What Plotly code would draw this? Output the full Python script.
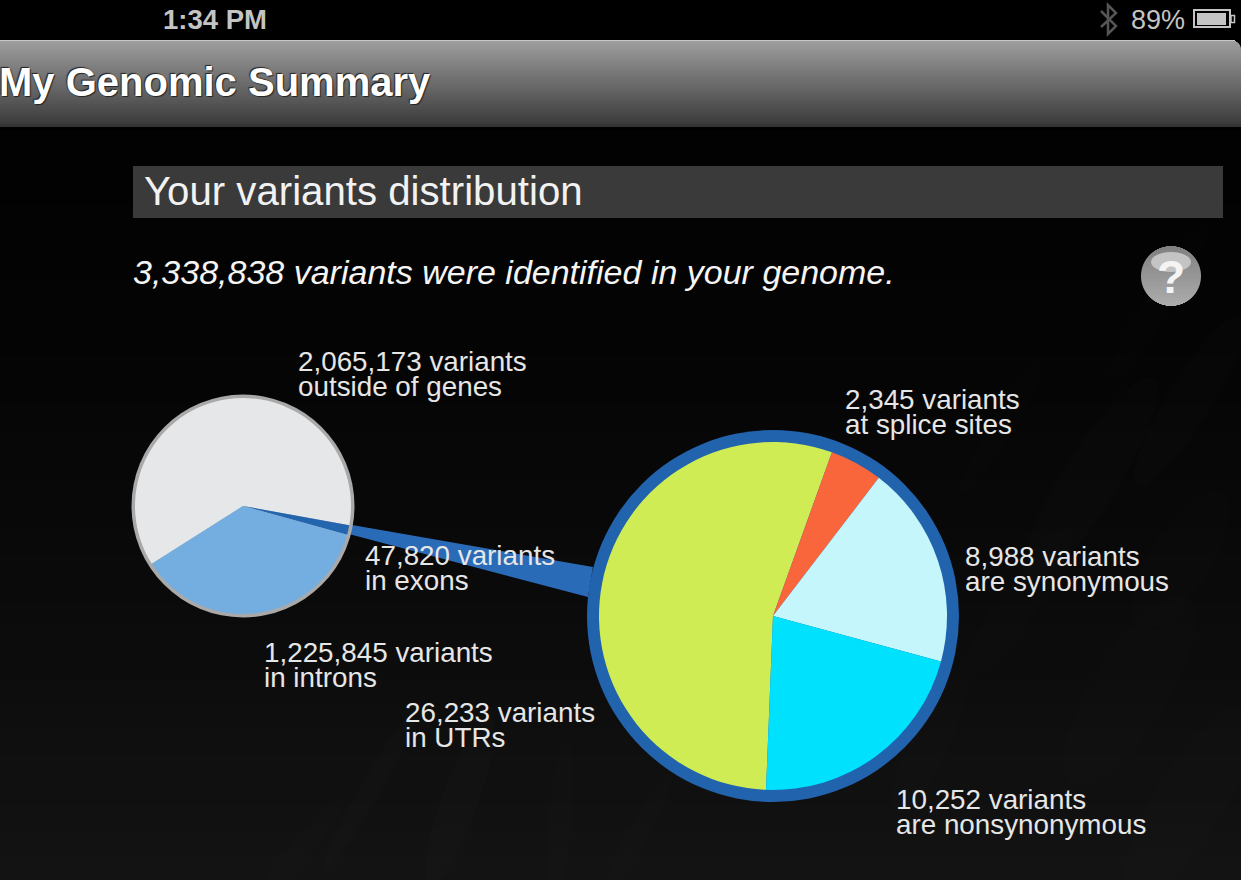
import math
import plotly.graph_objects as go

W, H = 1241, 880

# ---- data ----
overview_labels = ["outside of genes", "in exons", "in introns"]
overview_values = [2065173, 47820, 1225845]
overview_colors = ["#e6e7e9", "#2465b0", "#74aee0"]

exon_labels = ["in UTRs", "at splice sites", "are synonymous", "are nonsynonymous"]
exon_values = [26233, 2345, 8988, 10252]
exon_colors = ["#cfec55", "#f9663c", "#c5f6fb", "#00e1fe"]

# (left x, first-line centre y, line 1, line 2)
callouts = [
    (298, 362, "2,065,173 variants", "outside of genes"),
    (845, 400, "2,345 variants", "at splice sites"),
    (965, 557, "8,988 variants", "are synonymous"),
    (365, 556, "47,820 variants", "in exons"),
    (264, 653, "1,225,845 variants", "in introns"),
    (405, 713, "26,233 variants", "in UTRs"),
    (896, 800, "10,252 variants", "are nonsynonymous"),
]

FONT = "Liberation Sans"


def px(x):
    return x / W


def py(y):
    return 1 - y / H


def rect(x0, y0, x1, y1, fill, line=None, lw=0, layer="below"):
    return dict(type="rect", xref="paper", yref="paper", x0=px(x0), x1=px(x1), y0=py(y0), y1=py(y1),
                fillcolor=fill, line=dict(color=line or fill, width=lw), layer=layer)


def circle(cx, cy, r, fill, ry=None, layer="below"):
    ry = ry or r
    return dict(type="circle", xref="paper", yref="paper", x0=px(cx - r), x1=px(cx + r),
                y0=py(cy + ry), y1=py(cy - ry), fillcolor=fill, line=dict(width=0), layer=layer)


def poly(points, fill=None, line=None, lw=0, close=True, layer="below"):
    d = "M " + " L ".join(f"{px(x):.5f},{py(y):.5f}" for x, y in points) + (" Z" if close else "")
    return dict(type="path", xref="paper", yref="paper", path=d, fillcolor=fill or "rgba(0,0,0,0)",
                line=dict(color=line or "rgba(0,0,0,0)", width=lw), layer=layer)


def mix(a, b, t):
    v = round(a + (b - a) * t)
    return f"rgb({v},{v},{v})"


def streak(cx, cy, a, b, deg, alpha):
    t = math.radians(deg)
    pts = []
    for i in range(36):
        u = 2 * math.pi * i / 36
        ex, ey = a * math.cos(u), b * math.sin(u)
        pts.append((cx + ex * math.cos(t) - ey * math.sin(t), cy + ex * math.sin(t) + ey * math.cos(t)))
    return poly(pts, fill=f"rgba(255,255,255,{alpha})")


shapes = [rect(0, 0, W, H, "#000000")]

# page background: black above, slowly lifting towards the bottom
for i in range(30):
    y0 = 130 + i * 25
    shapes.append(rect(0, y0, W, y0 + 25, mix(2, 19, (i / 29) ** 1.5)))

# faint texture
for s in [
    (1090, 480, 120, 28, -58, .012), (1190, 400, 100, 22, -58, .010), (1130, 690, 110, 38, -58, .009),
    (1190, 800, 110, 35, -58, .009), (1020, 600, 90, 20, -55, .008), (1000, 430, 75, 12, -58, .006),
    (1180, 560, 80, 30, -58, .008), (1160, 300, 90, 14, -58, .006), (1040, 330, 60, 10, -58, .005),
    (460, 800, 90, 18, -70, .010), (370, 790, 90, 10, -60, .010), (560, 820, 80, 12, -85, .008),
    (930, 740, 80, 20, -65, .006), (300, 850, 70, 10, -50, .007), (640, 830, 60, 10, -60, .006),
]:
    shapes.append(streak(*s))

# header bar with a rounded top-right corner
for i in range(84):
    y = 40 + i
    inset = 0
    if i < 9:
        inset = 9 - math.sqrt(81 - (9 - i) ** 2)
    shapes.append(rect(0, y, W - inset, y + 1, mix(158, 60, i / 83)))
shapes.append(rect(0, 40, W - 6, 41, "#c8c8c8"))
shapes.append(rect(0, 124, W, 127, "#343434"))

# section banner
shapes.append(rect(133, 166, 1223, 218, "#3a3a3a"))

# battery
shapes.append(rect(1194, 10, 1230, 27, "rgba(0,0,0,0)", "#c4c4c4", 2))
shapes.append(rect(1197, 13, 1226, 25, "#c4c4c4"))
shapes.append(rect(1231, 15.5, 1234.5, 22.5, "rgba(0,0,0,0)", "#c4c4c4", 1.5))

# bluetooth glyph
shapes.append(poly([(1101, 11), (1116, 26), (1108, 34), (1108, 5), (1116, 13), (1101, 27)],
                   line="#555555", lw=2.5, close=False))

# help button: vertical shading clipped to the disc
for i in range(60):
    y = 246 + i
    half = math.sqrt(max(0, 900 - (y + 0.5 - 276) ** 2))
    shapes.append(rect(1171 - half, y, 1171 + half, y + 1, mix(128, 172, i / 59)))
shapes.append(circle(1171, 262, 20, "#c4c4c4", ry=10))

# connector between the pies, then the ring and frame behind each pie
shapes.append(poly([(243, 506), (593, 567), (588, 597)], fill="#2a6bb8"))
shapes.append(circle(773, 616, 186, "#2263ae"))
shapes.append(circle(243, 506, 111.5, "#a9a9a9"))

annotations = []


def text(x, y, s, size, color="#e6e6e6", **kw):
    annotations.append(dict(x=px(x), y=py(y), xref="paper", yref="paper", text=s, showarrow=False,
                            xanchor=kw.pop("xanchor", "left"), yanchor="middle", align="left",
                            font=dict(family=FONT, size=size, color=color, **kw)))


for x, y, l1, l2 in callouts:
    text(x - 2, y - 0.7, l1, 27.8)
    text(x - 2, y + 24.5, l2, 27.8)

text(161, 19, "1:34 PM", 27.5, color="#c4c4c4", weight="bold")
text(1129, 20, "89%", 27, color="#c4c4c4")
text(-3, 82, "My Genomic Summary", 40, color="#ffffff", weight="bold",
     shadow="-1px -1px 1px #222, 1px 1px 1px #222")
text(142, 191, "Your variants distribution", 40.2, color="#f2f2f2")
text(131, 272, "3,338,838 variants were identified in your genome.", 34, color="#f5f5f5", style="italic")
text(1171, 277, "?", 46, color="#f4f4f4", weight="bold", xanchor="center")

fig = go.Figure()


def pie(labels, values, colors, cx, cy, r, rotation):
    fig.add_trace(go.Pie(
        labels=labels, values=values, sort=False, direction="clockwise", rotation=rotation,
        marker=dict(colors=colors, line=dict(width=0)), textinfo="none", showlegend=False,
        domain=dict(x=[px(cx - r), px(cx + r)], y=[py(cy + r), py(cy - r)]),
    ))


pie(overview_labels, overview_values, overview_colors, 243, 506, 108, 237.6)
pie(exon_labels, exon_values, exon_colors, 773, 616, 174, 182.3)

fig.update_layout(width=W, height=H, margin=dict(l=0, r=0, t=0, b=0), autosize=False,
                  paper_bgcolor="#000000", plot_bgcolor="#000000",
                  shapes=shapes, annotations=annotations)

fig.write_html("out.html", config={"displayModeBar": False},
               post_script="document.body.style.margin='0';document.body.style.overflow='hidden';document.body.style.background='#000';")
